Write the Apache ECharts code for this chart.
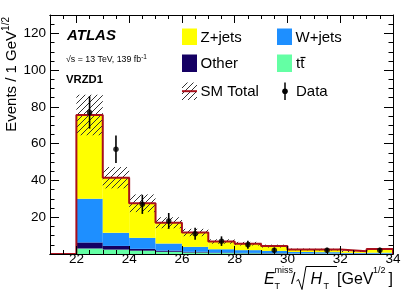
<!DOCTYPE html>
<html><head><meta charset="utf-8">
<script src="https://cdn.jsdelivr.net/npm/echarts@6/dist/echarts.min.js"></script>
<style>html,body{margin:0;padding:0;background:#fff}#c{width:415px;height:298px}</style>
</head><body><div id="c"></div>
<script>
// ---- data ----
var binEdges = [22,23,24,25,26,27,28,29,30,31,32,33,34];
var binCenters = [22.5,23.5,24.5,25.5,26.5,27.5,28.5,29.5,30.5,31.5,32.5,33.5];
var ttbar = [3.0, 2.4, 1.8, 1.2, 0.8, 0.5, 0.4, 0.3, 0.2, 0.2, 0.1, 0.1];
var other = [3.3, 2.0, 1.0, 0.6, 0.4, 0.3, 0.2, 0.2, 0.1, 0.1, 0.1, 0.1];
var wjets = [23.7, 7.1, 6.0, 3.9, 2.7, 1.8, 1.5, 1.2, 0.8, 0.7, 0.4, 0.5];
var zjets = [45.6, 30.0, 18.8, 11.3, 7.8, 4.2, 3.5, 2.6, 1.4, 1.4, 0.9, 2.0];
var smUnc = [11.0, 5.8, 4.8, 3.0, 2.0, 1.2, 1.0, 0.8, 0.5, 0.5, 0.4, 0.5];
var dataVals = [77, 57, 27, 18, 11, 7, 5, 2, null, 2, null, 2];
var dataErr = [8.8, 7.5, 5.2, 4.3, 3.3, 2.6, 2.2, 1.4, null, 1.4, null, 1.4];
var xTicks = [22,24,26,28,30,32,34];
var yTicks = [20,40,60,80,100,120];

var FONT = "'Liberation Sans', Arial, Helvetica, sans-serif";
var colZ = '#ffff00', colW = '#1e8fff', colO = '#150063', colT = '#64ffa4';
var colRed = '#a8101c';

// hatch pattern
var pc = document.createElement('canvas');
pc.width = 6; pc.height = 6;
var g = pc.getContext('2d');
g.strokeStyle = '#333'; g.lineWidth = 1;
g.beginPath();
g.moveTo(0,6); g.lineTo(6,0);
g.moveTo(-1,1); g.lineTo(1,-1);
g.moveTo(5,7); g.lineTo(7,5);
g.stroke();
var hatch = {image: pc, repeat: 'repeat'};

// build stacked tables
var comps = [ttbar, other, wjets, zjets];
var compColors = [colT, colO, colW, colZ];
var stackTables = [];
var base = binCenters.map(function(){return 0;});
comps.forEach(function(arr){
  var t = [];
  for (var i=0;i<arr.length;i++){
    t.push([binEdges[i], binEdges[i+1], base[i], base[i]+arr[i]]);
    base[i] += arr[i];
  }
  stackTables.push(t);
});
var totals = base.slice();
var uncTable = totals.map(function(t,i){ return [binEdges[i], binEdges[i+1], Math.max(0,t-smUnc[i]), t+smUnc[i]]; });
var outline = [[21,0],[binEdges[0],0]];
totals.forEach(function(t,i){ outline.push([binEdges[i],t]); outline.push([binEdges[i+1],t]); });
outline.push([binEdges[binEdges.length-1],0]);
var pts = [], errs = [];
binCenters.forEach(function(c,i){ if(dataVals[i]!=null){ pts.push([c,dataVals[i]]); errs.push([c,dataVals[i],dataErr[i]]); } });

function rectRender(fill){
  return function(params, api){
    var p0 = api.coord([api.value(0), api.value(3)]);
    var p1 = api.coord([api.value(1), api.value(2)]);
    return {type:'rect', shape:{x:p0[0], y:p0[1], width:p1[0]-p0[0], height:p1[1]-p0[1]}, style:{fill:fill, stroke:null}};
  };
}

var series = [];
stackTables.forEach(function(t,k){
  series.push({type:'custom', renderItem: rectRender(compColors[k]), data: t, encode:{x:[0,1], y:[2,3]}, z:2, silent:true});
});
series.push({type:'custom', renderItem: rectRender(hatch), data: uncTable, encode:{x:[0,1], y:[2,3]}, z:3, silent:true});
series.push({type:'line', data: outline, showSymbol:false, symbol:'none', lineStyle:{color:colRed, width:2}, z:4, silent:true, animation:false});
series.push({type:'custom', data: errs, z:5, silent:true, renderItem:function(params, api){
  var x = api.value(0), v = api.value(1), e = api.value(2);
  var a = api.coord([x, Math.max(0, v-e)]), b = api.coord([x, v+e]);
  return {type:'line', shape:{x1:a[0], y1:a[1], x2:b[0], y2:b[1]}, style:{stroke:'#000', lineWidth:1.6}};
}});
series.push({type:'scatter', data: pts, symbol:'circle', symbolSize:5.5, itemStyle:{color:'#000'}, z:6, silent:true});

function xAx(pos, major, label){
  var o = {type:'value', min:21, max:34, position:pos, z:10,
    axisLine:{show:true, onZero:false, lineStyle:{color:'#000', width:1}},
    splitLine:{show:false},
    axisTick:{show:true, inside:true, length: major?8:4, lineStyle:{color:'#000'}},
    axisLabel:{show:false}};
  if (major){ o.axisTick.customValues = xTicks; }
  else { o.interval = 0.5; }
  if (label){ o.axisLabel = {show:true, customValues: xTicks, color:'#000', fontSize:13.5, fontFamily:FONT, margin:-2}; }
  return o;
}
function yAx(pos, label){
  return {type:'value', min:0, max:130, interval:20, position:pos, z:10,
    axisLine:{show:true, onZero:false, lineStyle:{color:'#000', width:1}},
    splitLine:{show:false},
    axisTick:{show:true, inside:true, length:9, lineStyle:{color:'#000'}},
    minorTick:{show:true, splitNumber:4, length:4.5, lineStyle:{color:'#000'}},
    axisLabel: label ? {show:true, color:'#000', fontSize:13.5, fontFamily:FONT, margin:4,
      formatter:function(v){ return yTicks.indexOf(v)>=0 ? String(v) : ''; }} : {show:false}};
}

var T = function(text, x, y, size, extra){
  var s = {text:text, x:x, y:y, fill:'#000', fontSize:size, fontFamily:FONT, textAlign:'left', textVerticalAlign:'middle'};
  for (var k in extra) s[k] = extra[k];
  return {type:'text', z:20, style:s};
};

var graphics = [
  // y title
  {type:'text', x:10, y:17, rotation:Math.PI/2, z:20, style:{text:'{a|Events / 1 GeV}{b|1/2}', textAlign:'right', textVerticalAlign:'middle', fill:'#000',
    rich:{a:{fontSize:15, fontFamily:FONT, lineHeight:18, verticalAlign:'bottom'}, b:{fontSize:10, fontFamily:FONT, lineHeight:18, verticalAlign:'top', padding:[0,0,0,0]}}}},
  // labels in plot
  T('ATLAS', 67, 36, 15, {fontWeight:'bold', fontStyle:'italic'}),
  {type:'text', x:66, y:59, z:20, style:{text:'{a|\u221As = 13 TeV, 139 fb}{b|-1}', textAlign:'left', textVerticalAlign:'middle', fill:'#000',
    rich:{a:{fontSize:8.8, fontFamily:FONT, lineHeight:11, verticalAlign:'bottom'}, b:{fontSize:6.5, fontFamily:FONT, lineHeight:11, verticalAlign:'top'}}}},
  T('VRZD1', 66, 80, 11.3, {fontWeight:'bold'}),
  // legend boxes
  {type:'rect', z:20, shape:{x:182, y:28.5, width:15, height:16.5}, style:{fill:colZ}},
  {type:'rect', z:20, shape:{x:277, y:28.5, width:15, height:16.5}, style:{fill:colW}},
  {type:'rect', z:20, shape:{x:182, y:54.5, width:15, height:17.5}, style:{fill:colO}},
  {type:'rect', z:20, shape:{x:277, y:54.5, width:15, height:17.5}, style:{fill:colT}},
  {type:'rect', z:20, shape:{x:182, y:82.5, width:15, height:17.5}, style:{fill:hatch}},
  {type:'line', z:21, shape:{x1:182, y1:91.2, x2:197, y2:91.2}, style:{stroke:colRed, lineWidth:2}},
  {type:'line', z:21, shape:{x1:285, y1:82.5, x2:285, y2:100}, style:{stroke:'#000', lineWidth:1.5}},
  {type:'circle', z:21, shape:{cx:285, cy:91.2, r:2.8}, style:{fill:'#000'}},
  T('Z+jets', 200.5, 37.5, 15),
  T('W+jets', 295.5, 37.5, 15),
  T('Other', 200.5, 63.5, 15),
  T('tt', 296, 64, 15),
  {type:'line', z:21, shape:{x1:300.5, y1:57.5, x2:305.5, y2:57.5}, style:{stroke:'#000', lineWidth:1.2}},
  T('SM Total', 200.5, 91.5, 15),
  T('Data', 296, 91.5, 15),
  // x title
  T('E', 264, 279.5, 16, {fontStyle:'italic'}),
  T('miss', 274.5, 270.5, 9),
  T('T', 274.5, 287, 9),
  T('/', 291, 279.5, 16),
  {type:'polyline', z:20, shape:{points:[[296.5,281],[298.5,279.5],[302,289.5],[306,266.5],[337,266.5]]}, style:{stroke:'#000', lineWidth:1, fill:null}},
  T('H', 310.5, 279.5, 16, {fontStyle:'italic'}),
  T('T', 323.5, 287, 9),
  T('[GeV', 337, 279.5, 16),
  T('1/2', 373, 270.5, 9),
  T(']', 388.5, 279.5, 16)
];

var chart = echarts.init(document.getElementById('c'), null, {renderer:'canvas'});
chart.setOption({
  animation:false,
  backgroundColor:'#fff',
  grid:{left:50, right:22, top:15, bottom:44, containLabel:false, outerBoundsMode:'none'},
  xAxis:[xAx('bottom', true, true), xAx('bottom', false, false), xAx('top', true, false), xAx('top', false, false)],
  yAxis:[yAx('left', true), yAx('right', false)],
  series: series,
  graphic: graphics
});
</script></body></html>
